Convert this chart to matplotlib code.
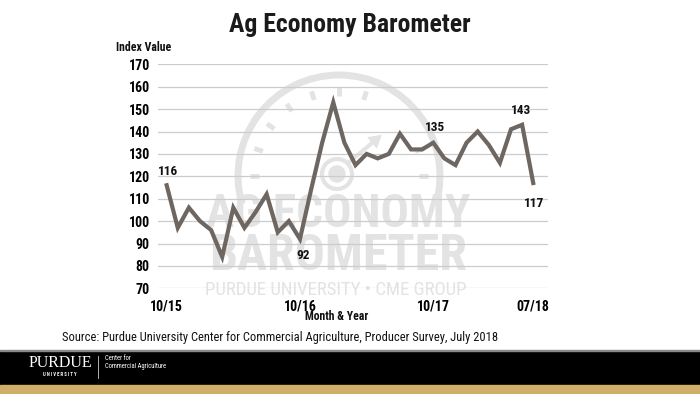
import matplotlib
matplotlib.use("Agg")
import matplotlib.pyplot as plt
from matplotlib.patches import Arc, Circle, Rectangle, FancyArrow
from matplotlib.transforms import ScaledTranslation
import numpy as np

# monthly index, 10/15 .. 07/18
months = ["10/15", "11/15", "12/15", "01/16", "02/16", "03/16", "04/16", "05/16",
          "06/16", "07/16", "08/16", "09/16", "10/16", "11/16", "12/16", "01/17",
          "02/17", "03/17", "04/17", "05/17", "06/17", "07/17", "08/17", "09/17",
          "10/17", "11/17", "12/17", "01/18", "02/18", "03/18", "04/18", "05/18",
          "06/18", "07/18"]
index_values = [116, 97, 106, 100, 96, 84, 106, 97, 104, 112, 95, 100, 92,
                114, 135, 153, 135, 125, 130, 128, 130, 139, 132, 132,
                135, 128, 125, 135, 140, 134, 126, 141, 143, 117]
tick_labels = ["10/15", "10/16", "10/17", "07/18"]
callouts = {"10/15": 116, "10/16": 92, "10/17": 135, "06/18": 143, "07/18": 117}

FONT = ["Roboto Condensed", "Liberation Sans Narrow", "DejaVu Sans"]
plt.rcParams["font.family"] = FONT

LINE = "#6e6660"
WM = "#e3e3e3"

fig = plt.figure(figsize=(7, 3.94), dpi=100)

# background layer in pixel coordinates (watermark + footer)
bg = fig.add_axes([0, 0, 1, 1], zorder=0)
bg.set_xlim(0, 700)
bg.set_ylim(394, 0)
bg.axis("off")

# gauge watermark (y is flipped, so angles are negated)
cx, cy = 339, 176
bg.add_patch(Arc((cx, cy), 202, 202, theta1=-196, theta2=16, color=WM, lw=5))
for ang in np.arange(0, 181, 18):
    if ang in (36, 54):
        continue  # arrow sits here
    a = np.deg2rad(ang)
    r0, r1 = 80, 89
    bg.plot([cx + r0 * np.cos(a), cx + r1 * np.cos(a)],
            [cy - r0 * np.sin(a), cy - r1 * np.sin(a)], color=WM, lw=3.5,
            solid_capstyle="butt")
bg.add_patch(Circle((337, 174), 15, fill=False, ec=WM, lw=3))
bg.add_patch(Circle((337, 174), 8, color=WM))
bg.add_patch(FancyArrow(348, 163, 24, -20, width=4, head_width=15, head_length=13,
                        color=WM, lw=0))
bg.text(338, 214, "AG ECONOMY", fontsize=34, fontweight="bold", color=WM,
        ha="center", va="center")
bg.text(338, 256, "BAROMETER", fontsize=36, fontweight="bold", color=WM,
        ha="center", va="center")
bg.text(336, 290, "PURDUE UNIVERSITY • CME GROUP", fontsize=13.5, color=WM,
        ha="center", va="center")

# footer
bg.add_patch(Rectangle((0, 351), 700, 34, color="black"))
bg.add_patch(Rectangle((0, 350), 700, 1.2, color="#8a8a8a"))
bg.add_patch(Rectangle((0, 385), 700, 10, color="#cfae6c"))
bg.text(29, 363, "PURDUE", family="Liberation Serif", fontsize=11.5, color="white",
        va="center", ha="left")
bg.text(60, 374.5, "U N I V E R S I T Y", fontsize=3.4, color="white",
        va="center", ha="center", fontweight="bold")
bg.plot([98, 98], [356, 378], color="#cccccc", lw=0.6)
bg.text(105, 358, "Center for", fontsize=4.8, color="white", va="center")
bg.text(105, 367, "Commercial Agriculture", fontsize=4.8, color="white", va="center")

# main chart
ax = fig.add_axes([158 / 700, 1 - 288.3 / 394, 390 / 700, 224 / 394], zorder=1)
ax.patch.set_alpha(0)
x = np.arange(len(months))
ax.plot(x, index_values, color=LINE, lw=3, solid_joinstyle="miter", zorder=3)
ax.set_xlim(-0.78, 34.33)
ax.set_ylim(70, 170)
ax.set_yticks(range(70, 171, 10))
ax.yaxis.grid(True, color="#cccccc", lw=0.9)
ax.set_axisbelow(True)
for s in ax.spines.values():
    s.set_visible(False)
ax.tick_params(length=0, labelsize=10, pad=6)
for lab in ax.get_yticklabels():
    lab.set_fontweight("bold")

ax.set_xticks([months.index(m) for m in tick_labels])
ax.set_xticklabels(tick_labels, fontweight="bold")
offset = ScaledTranslation(7 / 100, 0, fig.dpi_scale_trans)
for lab in ax.get_xticklabels():
    lab.set_transform(lab.get_transform() + offset)
ax.tick_params(axis="x", pad=8)

label_pos = {"10/15": (1, 10), "10/16": (2, -12), "10/17": (1, 11),
             "06/18": (-1, 10), "07/18": (1, -15)}
for m, v in callouts.items():
    dx, dy = label_pos[m]
    ax.annotate(str(v), (months.index(m), v), xytext=(dx, dy),
                textcoords="offset points", ha="center", va="center",
                fontsize=9.5, fontweight="bold", color="#111111")

fig.text(350 / 700, 1 - 25 / 394, "Ag Economy Barometer", fontsize=18.5,
         fontweight="bold", ha="center", va="center", color="#1a1a1a")
fig.text(116 / 700, 1 - 47.5 / 394, "Index Value", fontsize=8.5, fontweight="bold",
         ha="left", va="center", color="#111111")
fig.text(337 / 700, 1 - 317 / 394, "Month & Year", fontsize=8.5, fontweight="bold",
         ha="center", va="center", color="#111111")
fig.text(62 / 700, 1 - 337 / 394,
         "Source: Purdue University Center for Commercial Agriculture, Producer Survey, July 2018",
         fontsize=9, ha="left", va="center", color="#111111")

fig.savefig("out.png", dpi=100, facecolor="white")
